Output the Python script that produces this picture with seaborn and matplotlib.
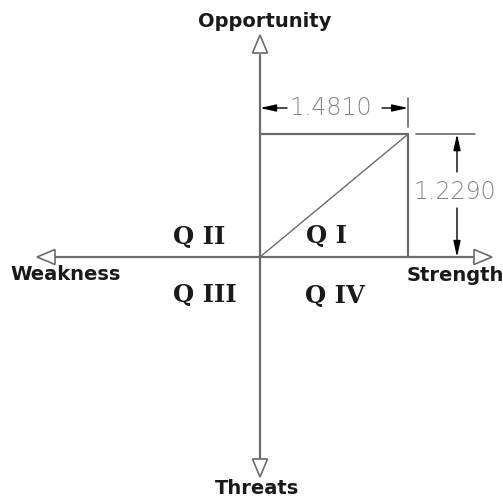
import matplotlib
matplotlib.use("Agg")
import matplotlib.pyplot as plt
from matplotlib.patches import Polygon
import seaborn as sns

# ---- data ----
strength = 1.4810
opportunity = 1.2290
axis_labels = ["Opportunity", "Strength", "Threats", "Weakness"]
quad_labels = ["Q I", "Q II", "Q III", "Q IV"]
dim_labels = ["1.4810", "1.2290"]

sns.set_theme(style="white")
plt.rcParams['font.family'] = ['DejaVu Sans']

fig = plt.figure(figsize=(5.03, 4.98), dpi=100)
ax = fig.add_axes([0, 0, 1, 1])
ax.set_xlim(-2.60, 2.43)
ax.set_ylim(-2.41, 2.57)
ax.axis("off")

AX_C = "#6b6b6b"
LW = 1.6

# main axes lines
ax.plot([-2.05, 2.15], [0, 0], color=AX_C, lw=LW, zorder=2)
ax.plot([0, 0], [2.02, -2.03], color=AX_C, lw=LW, zorder=2)

def open_head(tip, direction, length=0.18, half=0.075):
    x, y = tip
    dx, dy = direction
    bx, by = x - dx * length, y - dy * length
    px, py = -dy * half, dx * half
    tri = Polygon([(x, y), (bx + px, by + py), (bx - px, by - py)], closed=True,
                  facecolor="white", edgecolor=AX_C, lw=1.2, zorder=3)
    ax.add_patch(tri)

open_head((2.32, 0), (1, 0))
open_head((-2.23, 0), (-1, 0))
open_head((0, 2.22), (0, 1))
open_head((0, -2.20), (0, -1))

# rectangle and diagonal from data
sns.lineplot(x=[0, strength, strength], y=[opportunity, opportunity, 0], sort=False,
             color=AX_C, lw=LW, ax=ax, estimator=None)
sns.lineplot(x=[0, strength], y=[0, opportunity], sort=False,
             color=AX_C, lw=1.0, ax=ax, estimator=None)

# dimension: horizontal
ydim = 1.49
ax.plot([strength, strength], [1.59, 1.30], color=AX_C, lw=1.2)
ap = dict(arrowstyle="-|>,head_length=0.8,head_width=0.18", color="black", lw=1.0,
          shrinkA=0, shrinkB=0)
ax.annotate("", xy=(0, ydim), xytext=(0.27, ydim), arrowprops=ap)
ax.annotate("", xy=(strength, ydim), xytext=(1.22, ydim), arrowprops=ap)
dim_kw = dict(ha="center", va="center", fontsize=17, color="#858585",
              fontweight="light", family="DejaVu Sans")
ax.text(0.71, ydim, dim_labels[0], **dim_kw)

# dimension: vertical
xdim = 1.97
ax.plot([1.56, 2.15], [opportunity, opportunity], color=AX_C, lw=1.2)
ax.annotate("", xy=(xdim, opportunity), xytext=(xdim, 0.85), arrowprops=ap)
ax.annotate("", xy=(xdim, 0), xytext=(xdim, 0.49), arrowprops=ap)
ax.text(1.95, 0.65, dim_labels[1], **dim_kw)

# axis labels
lab_kw = dict(fontsize=14, fontweight="bold", color="#1a1a1a", ha="center", va="center")
ax.text(0.05, 2.36, axis_labels[0], **lab_kw)
ax.text(1.95, -0.18, axis_labels[1], **lab_kw)
ax.text(-0.03, -2.31, axis_labels[2], **lab_kw)
ax.text(-1.94, -0.17, axis_labels[3], **lab_kw)

# quadrant labels
q_kw = dict(fontsize=17.5, fontweight="bold", color="#1a1a1a", ha="center", va="center",
            family="DejaVu Serif")
ax.text(0.67, 0.21, quad_labels[0], **q_kw)
ax.text(-0.61, 0.20, quad_labels[1], **q_kw)
ax.text(-0.55, -0.38, quad_labels[2], **q_kw)
ax.text(0.75, -0.39, quad_labels[3], **q_kw)

fig.savefig("out.png", dpi=100)
